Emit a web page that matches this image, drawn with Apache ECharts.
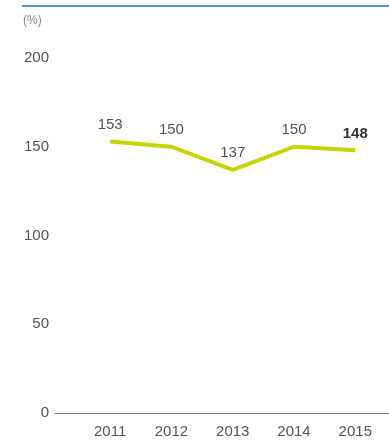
<!DOCTYPE html>
<html><head><meta charset="utf-8">
<script src="https://cdn.jsdelivr.net/npm/echarts@6/dist/echarts.min.js"></script>
<style>html,body{margin:0;padding:0;background:#fff}#c{width:389px;height:440px}</style>
</head><body><div id="c"></div>
<script>
const years = [2011, 2012, 2013, 2014, 2015];
const values = [153, 150, 137, 150, 148];
const yTicks = [0, 50, 100, 150, 200];
const unitLabel = '(%)';

const FONT = '"Liberation Sans", Arial, sans-serif';
const chart = echarts.init(document.getElementById('c'), null, {renderer: 'canvas'});
const data = years.map((y, i) => ({
  value: [y, values[i]],
  label: i === years.length - 1 ? {fontWeight: 'bold', color: '#333'} : {}
}));
chart.setOption({
  animation: false,
  grid: {left: 55, right: 0, top: 58, bottom: 27, containLabel: false},
  graphic: [
    {type: 'line', shape: {x1: 22, y1: 6, x2: 389, y2: 6}, style: {stroke: '#1f73c9', lineWidth: 1.5}},
    {type: 'text', left: 23, top: 15, style: {text: unitLabel, fill: '#888', font: '12px "Liberation Sans", Arial, sans-serif'}}
  ],
  xAxis: {
    type: 'value', min: 2010.1, max: 2015.55,
    splitLine: {show: false},
    axisLine: {show: true, lineStyle: {color: '#777', width: 1}},
    axisTick: {show: false},
    axisLabel: {customValues: years, formatter: v => String(v), color: '#555', fontSize: 15, fontFamily: FONT, margin: 11}
  },
  yAxis: {
    type: 'value', min: yTicks[0], max: yTicks[yTicks.length - 1], interval: 50,
    splitLine: {show: false},
    axisLine: {show: false},
    axisTick: {show: false},
    axisLabel: {color: '#555', fontSize: 15, fontFamily: FONT, margin: 6}
  },
  series: [{
    type: 'line', data: data, symbol: 'circle', symbolSize: 2, showSymbol: true,
    itemStyle: {color: 'rgba(0,0,0,0)', borderWidth: 0},
    lineStyle: {color: '#c3d600', width: 4},
    label: {show: true, position: 'top', distance: 8, color: '#555', fontSize: 15, fontFamily: FONT}
  }]
});
</script></body></html>
